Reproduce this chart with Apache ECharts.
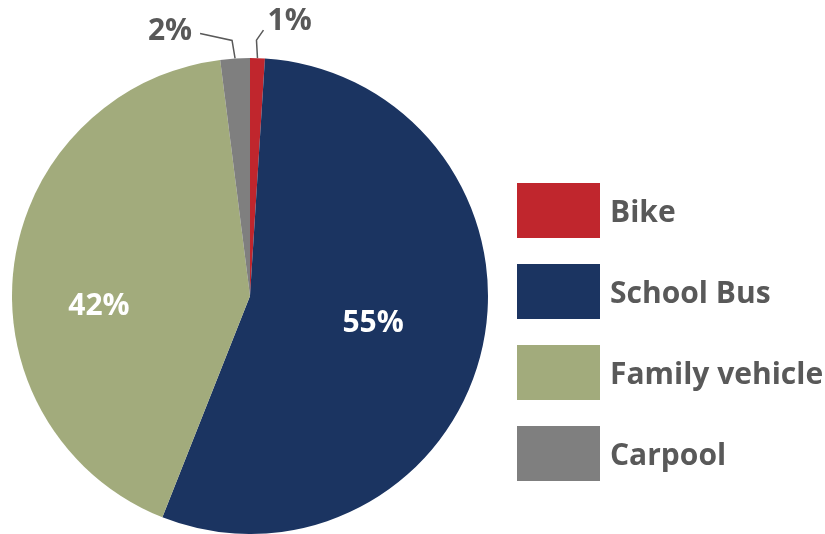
<!DOCTYPE html>
<html>
<head>
<meta charset="utf-8">
<script src="https://cdn.jsdelivr.net/npm/echarts@6/dist/echarts.min.js"></script>
<style>
  html, body { margin: 0; padding: 0; background: #fff; }
  #chart { width: 825px; height: 534px; }
</style>
</head>
<body>
<div id="chart"></div>
<script>
var categories = ['Bike', 'School Bus', 'Family vehicle', 'Carpool'];
var shares = [1, 55, 42, 2];
var colors = ['#C0262D', '#1B3461', '#A2AB7C', '#7F7F7F'];

var chartDom = document.getElementById('chart');
var myChart = echarts.init(chartDom);
var option;

var font = '"Open Sans", "Noto Sans", sans-serif';

// inside labels get nudged, the two small slices get leader lines
var labelOffsets = [null, [4, 1], [-30, 26], null];

var data = categories.map(function (name, i) {
  var item = {
    name: name,
    value: shares[i],
    itemStyle: { color: colors[i] }
  };
  if (labelOffsets[i]) {
    item.label = { position: 'inside', color: '#fff', offset: labelOffsets[i] };
    item.labelLine = { show: false };
  } else {
    item.label = { position: 'outside', color: '#595959' };
  }
  return item;
});

option = {
  animation: false,
  legend: {
    orient: 'vertical',
    left: 517,
    top: 183,
    padding: 0,
    icon: 'rect',
    itemWidth: 83,
    itemHeight: 55,
    itemGap: 26,
    data: categories,
    formatter: function (name) {
      return '{t|' + name + '}';
    },
    textStyle: {
      fontFamily: font,
      fontWeight: 'bold',
      fontSize: 30,
      color: '#595959',
      rich: {
        t: {
          fontFamily: font,
          fontWeight: 'bold',
          fontSize: 30,
          color: '#595959',
          padding: [6, 0, 0, 5]
        }
      }
    }
  },
  series: [
    {
      name: 'Transport',
      type: 'pie',
      center: [250, 296],
      radius: [0, 238],
      startAngle: 90,
      clockwise: true,
      avoidLabelOverlap: false,
      itemStyle: { borderWidth: 0 },
      label: {
        formatter: '{c}%',
        fontFamily: font,
        fontWeight: 'bold',
        fontSize: 30
      },
      labelLine: {
        show: true,
        lineStyle: { color: '#595959', width: 1.5 }
      },
      labelLayout: function (params) {
        var p = params.labelLinePoints;
        if (!p) return {};
        var a = p[0];
        if (params.dataIndex === 0) {
          return {
            x: a[0] + 10,
            y: a[1] - 37,
            align: 'left',
            verticalAlign: 'middle',
            labelLinePoints: [a, [a[0] - 1, a[1] - 18], [a[0] + 6, a[1] - 28]]
          };
        }
        if (params.dataIndex === 3) {
          return {
            x: a[0] - 43,
            y: a[1] - 27,
            align: 'right',
            verticalAlign: 'middle',
            labelLinePoints: [a, [a[0] - 3, a[1] - 18], [a[0] - 35, a[1] - 25]]
          };
        }
        return {};
      },
      data: data
    }
  ]
};

option && myChart.setOption(option);
</script>
</body>
</html>
